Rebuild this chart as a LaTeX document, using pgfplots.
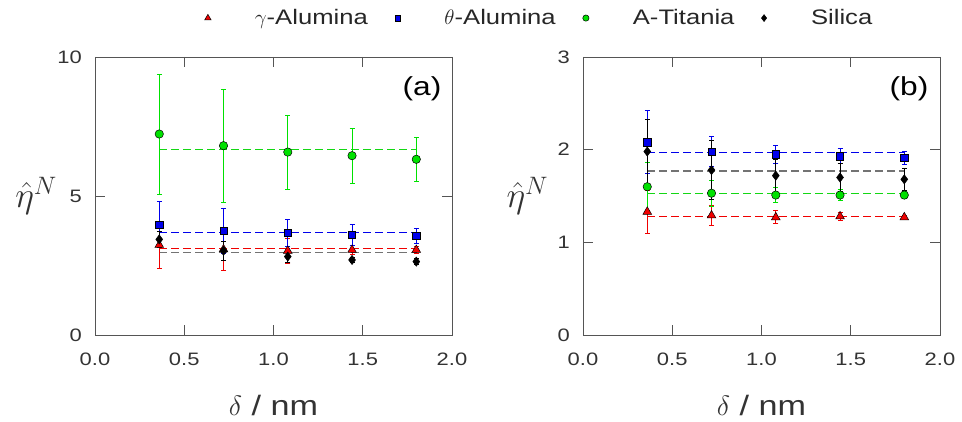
\RequirePackage{fix-cm}
\documentclass[border=0pt]{standalone}
\usepackage{fontspec}
\setmainfont{Liberation Sans}[FakeStretch=1.22]
\usepackage{pgfplots}
\pgfplotsset{compat=1.18}
\definecolor{myred}{RGB}{240,0,0}
\definecolor{myblue}{RGB}{0,0,235}
\definecolor{mygreen}{RGB}{0,225,0}
\definecolor{dgreen}{RGB}{20,215,20}
\definecolor{axgray}{RGB}{85,85,85}
\pgfplotsset{
  panel/.style={
    scale only axis, width=357pt, height=278pt,
    xmin=0, xmax=2, ymin=0,
    xtick={0,0.5,1,1.5,2}, xticklabels={0.0,0.5,1.0,1.5,2.0},
    tick align=inside, major tick length=10pt,
    tick style={axgray, line width=0.8pt},
    axis line style={axgray, line width=0.8pt},
    /pgf/number format/assume math mode=true,
    ticklabel style={font=\fontsize{18}{20}\selectfont, text=black!80},
    xticklabel style={anchor=base, yshift=-30pt},
    yticklabel style={anchor=east, inner sep=0pt, xshift=-13pt},
    xlabel={$\delta$ / nm},
    xlabel style={at={(axis description cs:0.5,-0.288)}, anchor=base, font=\fontsize{28}{32}\selectfont, text=black!80},
    ylabel={$\hat{\eta}^N$},
    ylabel style={rotate=-90, anchor=center, inner sep=0pt, font=\fontsize{36}{40}\selectfont, text=black!80},
    clip=false,
  },
  ebar/.style={error bars/.cd, y dir=both, y explicit,
    error bar style={line width=0.8pt, color=#1},
    error mark options={rotate=90, color=#1, mark size=2.5pt, line width=0.8pt}},
  sgam/.style={color=myred, only marks, mark=triangle*, mark size=5pt, mark options={fill=myred, draw=black, line width=0.5pt}, ebar=myred},
  stheta/.style={color=myblue, only marks, mark=square*, mark size=3.6pt, mark options={fill=myblue, draw=black, line width=0.5pt}, ebar=myblue},
  stit/.style={color=mygreen, only marks, mark=*, mark size=4.2pt, mark options={fill=mygreen, draw=black, line width=0.5pt}, ebar=mygreen},
  ssil/.style={color=black, only marks, mark=diamond*, mark size=4.6pt, mark options={fill=black, draw=black, line width=0.5pt}, ebar=black},
  mline/.style={color=#1, line width=1.3pt, dash pattern=on 8pt off 4pt, forget plot},
}
\begin{document}
\begin{tikzpicture}
\useasboundingbox (0,0) rectangle (962pt,421pt);
% ---------------- panel (a) ----------------
\begin{axis}[panel, at={(95pt,86pt)}, anchor=south west,
  ymax=10, ytick={0,5,10},
  ylabel style={at={(axis description cs:-0.165,0.5)}},
  legend columns=4,
  legend style={draw=none, fill=none, at={(1.245,1.14)}, anchor=center,
    font=\fontsize{21}{24}\selectfont, text=black!85,
    /tikz/every even column/.append style={column sep=25pt}},
  legend image code/.code={\draw[#1] plot coordinates {(0pt,0pt)}; \path[draw=none] (0pt,0pt) -- (45pt,0pt);},
  legend image post style={every mark/.append style={scale=0.75}},
]
\addplot[mline=myred] coordinates {(0.36,3.11) (1.80,3.11)};
\addplot[mline=myblue] coordinates {(0.36,3.69) (1.80,3.69)};
\addplot[mline=black!55] coordinates {(0.36,2.96) (1.80,2.96)};
\addplot[mline=dgreen] coordinates {(0.36,6.68) (1.80,6.68)};
\addplot[sgam] coordinates {(0.36,3.24) +- (0,0.83) (0.72,3.08) +- (0,0.74) (1.08,3.03) +- (0,0.45) (1.44,3.06) +- (0,0.15) (1.80,3.06) +- (0,0.12)};
\addlegendentry{$\gamma$-Alumina}
\addplot[stheta] coordinates {(0.36,3.98) +- (0,0.82) (0.72,3.75) +- (0,0.81) (1.08,3.68) +- (0,0.48) (1.44,3.61) +- (0,0.37) (1.80,3.56) +- (0,0.26)};
\addlegendentry{$\theta$-Alumina}
\addplot[stit] coordinates {(0.36,7.23) +- (0,2.16) (0.72,6.81) +- (0,2.04) (1.08,6.58) +- (0,1.33) (1.44,6.45) +- (0,0.99) (1.80,6.32) +- (0,0.78)};
\addlegendentry{A-Titania}
\addplot[ssil] coordinates {(0.36,3.44) +- (0,0.30) (0.72,3.03) +- (0,0.35) (1.08,2.82) +- (0,0.20) (1.44,2.70) +- (0,0.10) (1.80,2.64) +- (0,0.10)};
\addlegendentry{Silica}
\node[font=\fontsize{26}{30}\selectfont] at (rel axis cs:0.916,0.885) {(a)};
\end{axis}
% ---------------- panel (b) ----------------
\begin{axis}[panel, at={(583pt,86pt)}, anchor=south west,
  ymax=3, ytick={0,1,2,3},
  ylabel style={at={(axis description cs:-0.156,0.5)}},
]
\addplot[mline=myred] coordinates {(0.36,1.28) (1.80,1.28)};
\addplot[mline=myblue] coordinates {(0.36,1.97) (1.80,1.97)};
\addplot[mline=black!55] coordinates {(0.36,1.77) (1.80,1.77)};
\addplot[mline=dgreen] coordinates {(0.36,1.53) (1.80,1.53)};
\addplot[sgam] coordinates {(0.36,1.33) +- (0,0.23) (0.72,1.29) +- (0,0.11) (1.08,1.27) +- (0,0.07) (1.44,1.28) +- (0,0.04) (1.80,1.27) +- (0,0.02)};
\addplot[stheta] coordinates {(0.36,2.08) +- (0,0.34) (0.72,1.98) +- (0,0.16) (1.08,1.95) +- (0,0.10) (1.44,1.93) +- (0,0.08) (1.80,1.91) +- (0,0.07)};
\addplot[stit] coordinates {(0.36,1.60) +- (0,0.26) (0.72,1.53) +- (0,0.14) (1.08,1.51) +- (0,0.08) (1.44,1.51) +- (0,0.06) (1.80,1.51) +- (0,0.04)};
\addplot[ssil] coordinates {(0.36,1.98) +- (0,0.35) (0.72,1.78) +- (0,0.32) (1.08,1.72) +- (0,0.18) (1.44,1.70) +- (0,0.15) (1.80,1.68) +- (0,0.12)};
\node[font=\fontsize{26}{30}\selectfont] at (rel axis cs:0.913,0.885) {(b)};
\end{axis}
\end{tikzpicture}
\end{document}
